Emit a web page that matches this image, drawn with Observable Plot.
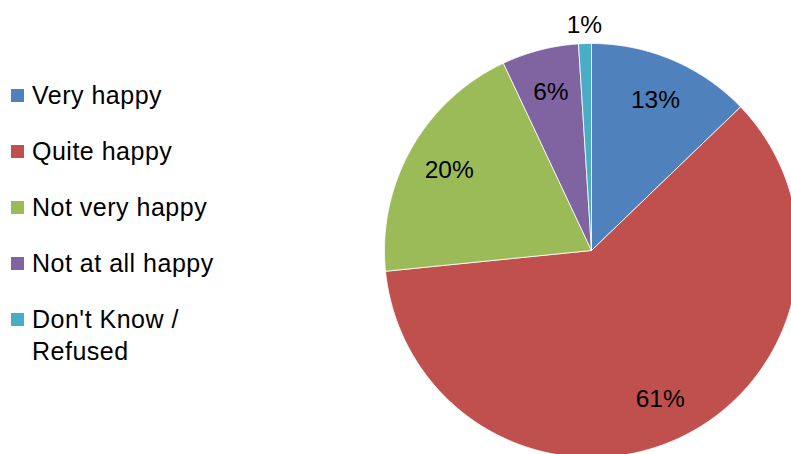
<!DOCTYPE html>
<html>
<head>
<meta charset="utf-8">
<script src="https://cdn.jsdelivr.net/npm/d3@7"></script>
<script src="https://cdn.jsdelivr.net/npm/@observablehq/plot@0.6"></script>
<style>
  html, body { margin: 0; padding: 0; background: #fff; overflow: hidden; }
  #wrap { position: relative; width: 791px; height: 454px; overflow: hidden; }
  #wrap svg { overflow: hidden; }
  .legend { position: absolute; left: 0; top: 0; font-family: "Liberation Sans", Arial, sans-serif; font-size: 25px; letter-spacing: 0.5px; color: #000; }
  .item { position: absolute; left: 0; width: 230px; }
  .sw { position: absolute; left: 11px; top: 8.8px; width: 13px; height: 13px; }
  .lbl { position: absolute; left: 32px; width: 200px; line-height: 31.5px; }
</style>
</head>
<body>
<div id="wrap"></div>
<script>
const categories = ["Very happy", "Quite happy", "Not very happy", "Not at all happy", "Don't Know / Refused"];
const values = [12.8, 60.6, 19.6, 6.0, 1.0];
const colors = ["#4F81BD", "#C0504D", "#9BBB59", "#8064A2", "#4BACC6"];

const W = 791, H = 454;
const cx = 591, cy = 250, R = 207; // layout of the pie in pixels

// Build slice polygons in data units (radius = 1), clockwise from 12 o'clock
const total = d3.sum(values);
const pts = [];
const labels = [];
let acc = 0;
values.forEach((v, i) => {
  const a0 = acc / total * 2 * Math.PI;
  acc += v;
  const a1 = acc / total * 2 * Math.PI;
  const n = Math.max(2, Math.ceil((a1 - a0) / (Math.PI / 360)));
  pts.push({cat: categories[i], x: 0, y: 0});
  for (let k = 0; k <= n; k++) {
    const a = a0 + (a1 - a0) * k / n;
    pts.push({cat: categories[i], x: Math.sin(a), y: Math.cos(a)});
  }
  pts.push({cat: categories[i], x: 0, y: 0});
  const am = (a0 + a1) / 2;
  const share = v / total;
  const lr = share < 0.03 ? 1.09 : 0.79;
  labels.push({x: lr * Math.sin(am), y: lr * Math.cos(am), text: Math.round(v) + "%"});
});

const chart = Plot.plot({
  width: W,
  height: H,
  margin: 0,
  x: {domain: [-cx / R, (W - cx) / R], range: [0, W], axis: null},
  y: {domain: [-(H - cy) / R, cy / R], range: [H, 0], axis: null},
  color: {domain: categories, range: colors},
  style: {fontFamily: "Liberation Sans, Arial, sans-serif", background: "#fff", overflow: "hidden"},
  marks: [
    Plot.line(pts, {x: "x", y: "y", z: "cat", fill: "cat", stroke: "white", strokeWidth: 0.8, strokeLinejoin: "round", curve: "linear", clip: true}),
    Plot.text(labels, {x: "x", y: "y", text: "text", fontSize: 24.5, fill: "#000", stroke: null})
  ]
});
document.getElementById("wrap").appendChild(chart);

// Legend (HTML, over the left part of the chart)
const legend = document.createElement("div");
legend.className = "legend";
categories.forEach((c, i) => {
  const item = document.createElement("div");
  item.className = "item";
  item.style.top = (80.2 + i * 56) + "px";
  const sw = document.createElement("div");
  sw.className = "sw";
  sw.style.background = colors[i];
  const lb = document.createElement("div");
  lb.className = "lbl";
  lb.textContent = c;
  item.appendChild(sw);
  item.appendChild(lb);
  legend.appendChild(item);
});
document.getElementById("wrap").appendChild(legend);
</script>
</body>
</html>
